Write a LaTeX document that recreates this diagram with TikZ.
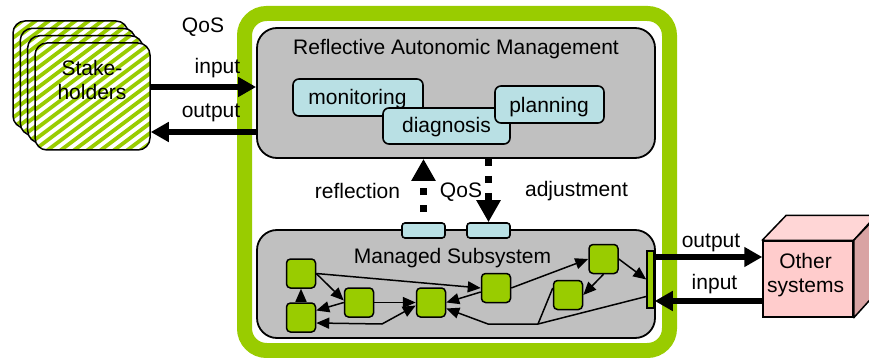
\documentclass[tikz,border=0pt]{standalone}
\usepackage{fontspec}
\setmainfont{Liberation Sans}
\usetikzlibrary{arrows.meta,calc}
\definecolor{leaf}{HTML}{99CC00}
\definecolor{panel}{HTML}{C0C0C0}
\definecolor{pale}{HTML}{B9E0E4}
\definecolor{rose}{HTML}{FFCCCC}
\definecolor{rosetop}{HTML}{FFD6D6}
\definecolor{roseside}{HTML}{D9A3A3}
\tikzset{
  card/.style={draw=black, line width=1.5, rounded corners=12, fill=white,
    minimum width=115, minimum height=107, inner sep=0, align=center,
    path picture={\foreach \k in {-13,...,13}
      \draw[leaf, line width=3.8] ($(path picture bounding box.center)+(\k*13.3-100,75)$) -- ++(200,-150);}},
  panelbox/.style={draw=black, line width=1.8, fill=panel, rounded corners=20, inner sep=0},
  task/.style={draw=black, line width=1.6, fill=pale, rounded corners=6, inner sep=0},
  unit/.style={draw=black, line width=1.5, fill=leaf, rounded corners=4, minimum size=29, inner sep=0},
  lbl/.style={inner sep=0, anchor=base},
  link/.style={line width=1.5, -{Triangle[length=13pt,width=11pt]}},
  plain/.style={line width=1.5},
  bigarrow/.style={line width=6, -{Triangle[length=18pt,width=19pt]}},
  dotarrow/.style={line width=7, dash pattern=on 7pt off 10pt, -{Triangle[length=22pt,width=23pt]}},
}
\begin{document}
\begin{tikzpicture}[x=1pt, y=-1pt, font=\fontsize{21}{24.5}\selectfont]
\useasboundingbox (0,0) rectangle (869,358);

% outer green frame of the autonomic system
\node[draw=leaf, line width=15, rounded corners=22, minimum width=425, minimum height=337, inner sep=0] (frame) at (457,182) {};

% stack of stakeholder cards
\node[card] (stake1) at (70.5,74.5) {};
\node[card] (stake2) at (77.8,81.8) {};
\node[card] (stake3) at (85.2,89.2) {};
\node[card] (stake) at (92.5,96.5) {};
\node[inner sep=0, align=center] (staketext) at (92,80) {Stake-\\holders};

% reflective autonomic management layer
\node[panelbox, minimum width=398, minimum height=130] (ram) at (456,93) {};
\node[lbl] (ramtitle) at (456,55) {Reflective Autonomic Management};
\node[task, minimum width=130, minimum height=37] (mon) at (358,97.5) {};
\node[lbl] (montext) at (357.5,105) {monitoring};
\node[task, minimum width=127, minimum height=36] (diag) at (446.5,126) {};
\node[lbl] (diagtext) at (446.5,133) {diagnosis};
\node[task, minimum width=109, minimum height=37] (plan) at (549.5,104.5) {};
\node[lbl] (plantext) at (549,113) {planning};

% managed subsystem
\node[panelbox, minimum width=398, minimum height=108] (ms) at (456,284) {};
\node[lbl] (mstitle) at (452.5,263) {Managed Subsystem};
\node[task, rounded corners=3, minimum width=43, minimum height=15] (reflport) at (423.5,230.5) {};
\node[task, rounded corners=3, minimum width=43, minimum height=15] (adjport) at (488.5,230.5) {};

\node[unit] (sqA) at (301,273.5) {};
\node[unit] (sqB) at (301,317.5) {};
\node[unit] (sqC) at (359,302.5) {};
\node[unit] (sqD) at (431,302.5) {};
\node[unit] (sqE) at (496,288) {};
\node[unit] (sqF) at (603.5,259) {};
\node[unit] (sqG) at (568,295) {};
\node[draw=black, line width=1.5, fill=leaf, minimum width=7, minimum height=57, inner sep=0] (port) at (650.5,279.5) {};

\coordinate (j1) at (382,324);
\coordinate (j2) at (488,324);
\coordinate (j3) at (538,324);

% internal interactions
\draw[link] (sqB) -- (sqA);
\draw[link] (sqA.east) -- ($(sqC.west)+(0,-2)$);
\draw[link] (sqC.west) -- ($(sqB.east)+(0,-7)$);
\draw[link] (sqC) -- (sqD);
\draw[link] (sqA.east) -- (sqE.west);
\draw[line width=1.5, {Triangle[length=13pt,width=11pt]}-{Triangle[length=13pt,width=11pt]}]
  ($(sqB.east)+(0,5.5)$) -- (j1) -- ($(sqD.west)+(0,3)$);
\draw[link] ($(sqE.west)+(0,4)$) -- (sqD.east);
\draw[link] ($(port.west)+(0,17)$) -- (j3) -- (j2) -- ($(sqD.east)+(0,6)$);
\draw[plain] (j3) -- ($(sqG.west)+(0,-7)$);
\draw[link] (sqE.east) -- (sqF.west);
\draw[link] (sqF.south) -- (sqG.east);
\draw[link] (sqF.east) -- (port.west);

% reflection and adjustment channels
\draw[dotarrow, dash phase=7pt] (reflport.north) -- (reflport.north |- ram.south);
\draw[dotarrow] (adjport.north |- ram.south) -- (adjport.north);
\node[lbl] (refltext) at (357.5,198) {reflection};
\node[lbl] (qosmid) at (461,197) {QoS};
\node[lbl] (adjtext) at (576.5,196) {adjustment};

% stakeholder interface
\draw[bigarrow] ($(stake.east)+(0,-9.5)$) -- ($(ram.west)+(0,-6)$);
\draw[bigarrow] ($(ram.west)+(0,39)$) -- ($(stake.east)+(0,35.5)$);
\node[lbl] (qostop) at (203,33) {QoS};
\node[lbl] (intext) at (217.5,74) {input};
\node[lbl] (outtext) at (211,118) {output};

% other systems as a box
\node[draw=black, line width=1.5, fill=rose, minimum width=90, minimum height=76, inner sep=0, align=center] (other) at (808,279) {};
\draw[line width=1.5, fill=rosetop, line join=round] (other.north west) -- ++(24,-25) -- ++(90,0) -- (other.north east) -- cycle;
\draw[line width=1.5, fill=roseside, line join=round] (other.north east) -- ++(24,-25) -- ++(0,76) -- (other.south east) -- cycle;
\node[inner sep=0, align=center] (othertext) at (805.5,275) {Other\\systems};

\draw[bigarrow] ($(port.east)+(0,-22.5)$) -- ($(other.west)+(0,-22)$);
\draw[bigarrow] ($(other.west)+(0,22)$) -- ($(port.east)+(0,21.5)$);
\node[lbl] (outright) at (711,247) {output};
\node[lbl] (inright) at (714.5,289) {input};
\end{tikzpicture}
\end{document}
